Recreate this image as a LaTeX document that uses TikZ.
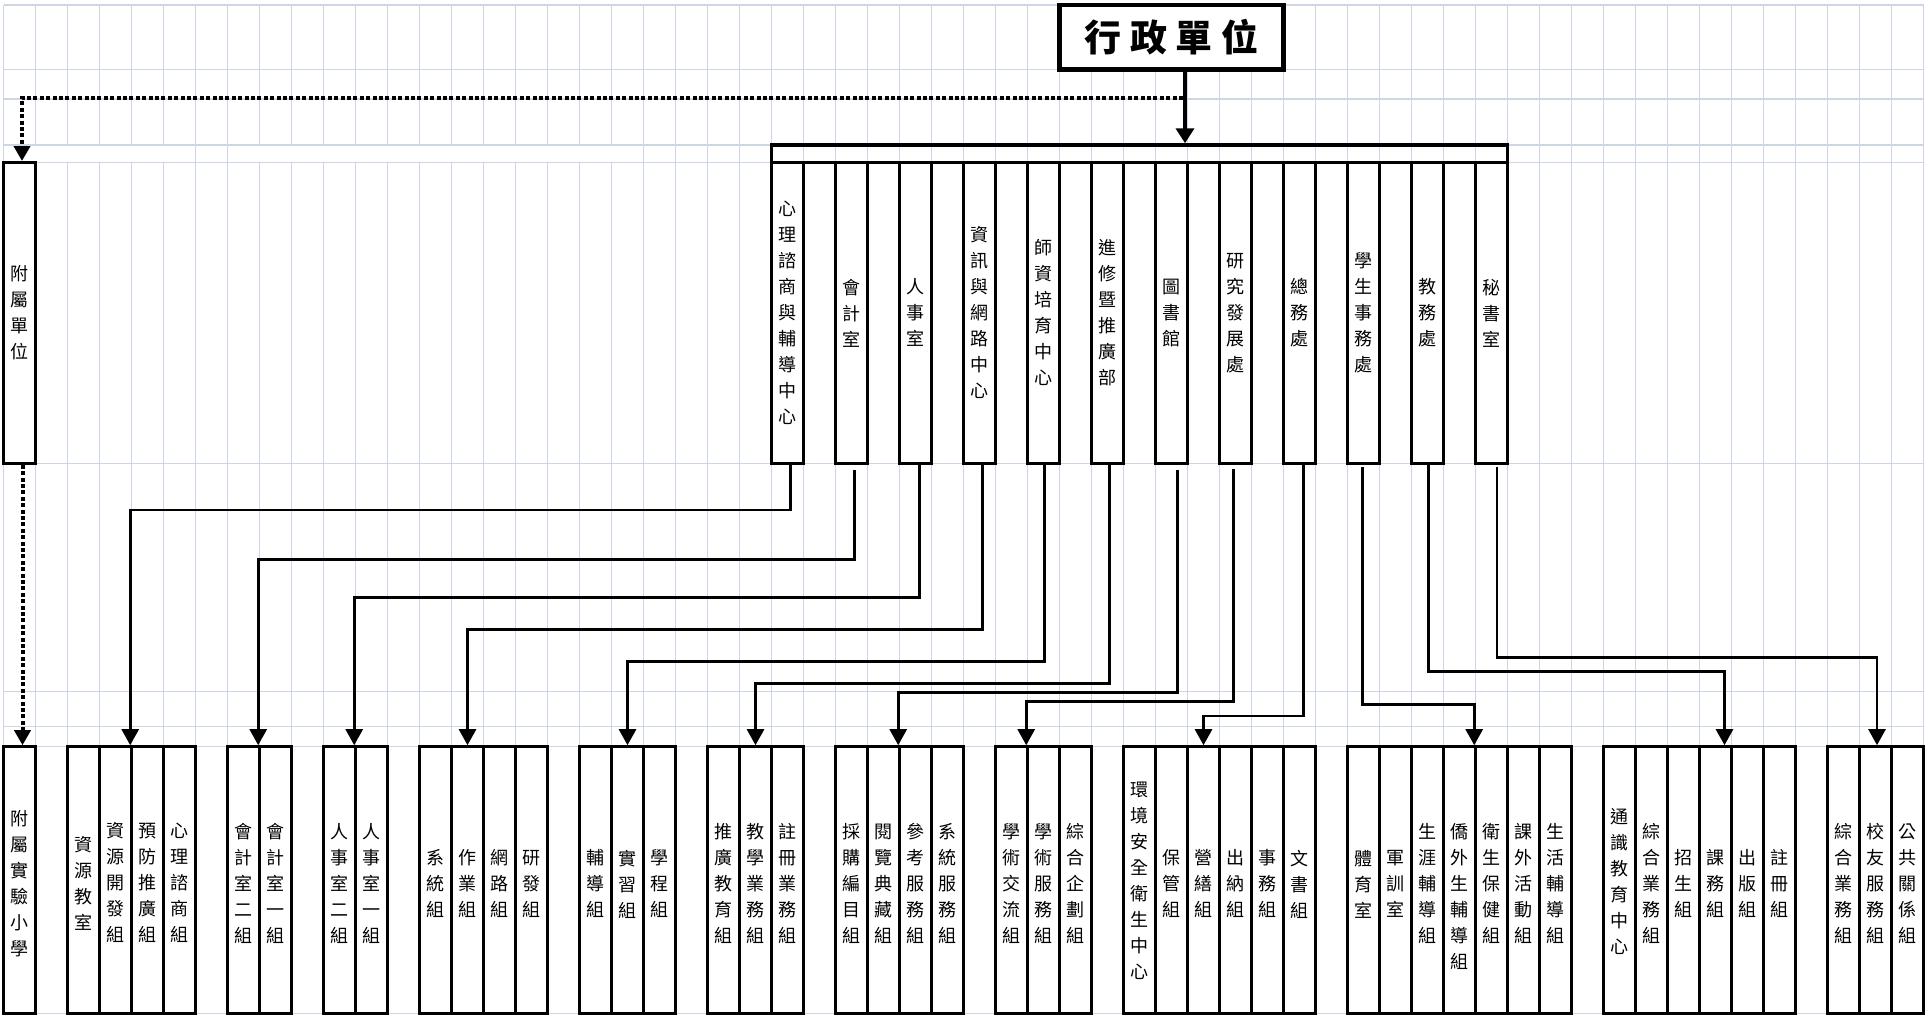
\documentclass[tikz,border=0pt]{standalone}
\usepackage{fontspec}
\newfontfamily\cjk{Noto Sans CJK TC}
\usetikzlibrary{arrows.meta}
\definecolor{gridc}{RGB}{206,214,229}
\begin{document}
\begin{tikzpicture}[x=1pt,y=-1pt,
  gridl/.style={draw=gridc,line width=1.5pt},
  ubox/.style={draw,fill=white,line width=2.6pt,minimum width=32pt,minimum height=301.2pt,inner sep=0pt,align=center,font=\cjk\fontsize{18}{26}\selectfont},
  bbox/.style={draw,fill=white,line width=2.6pt,minimum width=32pt,minimum height=266.8pt,inner sep=0pt},
  btext/.style={inner sep=0pt,align=center,font=\cjk\fontsize{18}{26}\selectfont},
  conn/.style={line width=2.6pt,-{Triangle[width=17pt,length=16pt]}},
  mainconn/.style={line width=4pt,-{Triangle[width=18pt,length=15pt]}},
  dotconn/.style={line width=4pt,dash pattern=on 4pt off 2.4pt,-{Triangle[width=16pt,length=15pt]}}]
\useasboundingbox (0,0) rectangle (1928,1015);
\fill[white] (0,0) rectangle (1928,1015);
% grid
\foreach \y in {5,69.5,99,145,162.3,463.5,691.7,726.5,746.5,1013.3}
  \draw[gridl] (3.5,\y) -- (1923.5,\y);
\foreach \k in {0,6,7}
  \draw[gridl] (3.5+32*\k,5) -- (3.5+32*\k,1013.3);
\foreach \k in {20,...,60}
  \draw[gridl] (3.5+32*\k,5) -- (3.5+32*\k,1013.3);
\foreach \k in {1,2,3,4,5,8,9,10,11,12,13,14,15,16,17,18,19}{
  \draw[gridl] (3.5+32*\k,5) -- (3.5+32*\k,145);
  \draw[gridl] (3.5+32*\k,162.3) -- (3.5+32*\k,1013.3);
}
% top box
\node[draw,fill=white,line width=4.5pt,minimum width=224pt,minimum height=64.5pt,inner sep=0pt,
  font=\cjk\bfseries\fontsize{37}{40}\selectfont] (top) at (1171.5,37.25)
  {行\hspace{9pt}政\hspace{9pt}單\hspace{9pt}位};
% bar
\node[draw,line width=3.5pt,minimum width=736pt,minimum height=17.3pt,inner sep=0pt] (bar) at (1139.5,153.65) {};
% affiliated unit
\node[ubox] (aff) at (19.5,312.9) {附\\屬\\單\\位};
% upper boxes
\foreach \k/\lab in {24/心\\理\\諮\\商\\與\\輔\\導\\中\\心,
  26/會\\計\\室, 28/人\\事\\室, 30/資\\訊\\與\\網\\路\\中\\心,
  32/師\\資\\培\\育\\中\\心, 34/進\\修\\暨\\推\\廣\\部, 36/圖\\書\\館,
  38/研\\究\\發\\展\\處, 40/總\\務\\處, 42/學\\生\\事\\務\\處,
  44/教\\務\\處, 46/秘\\書\\室}
  \node[ubox] (u\k) at (19.5+32*\k,312.9) {\lab};
% bottom boxes
\foreach \k/\lab/\dy in {0/附\\屬\\實\\驗\\小\\學/4,
  2/資\\源\\教\\室/3, 3/資\\源\\開\\發\\組/3, 4/預\\防\\推\\廣\\組/3, 5/心\\理\\諮\\商\\組/3,
  7/會\\計\\室\\二\\組/4, 8/會\\計\\室\\一\\組/4,
  10/人\\事\\室\\二\\組/4, 11/人\\事\\室\\一\\組/4,
  13/系\\統\\組/4, 14/作\\業\\組/4, 15/網\\路\\組/4, 16/研\\發\\組/4,
  18/輔\\導\\組/4, 19/實\\習\\組/4, 20/學\\程\\組/4,
  22/推\\廣\\教\\育\\組/4, 23/教\\學\\業\\務\\組/4, 24/註\\冊\\業\\務\\組/4,
  26/採\\購\\編\\目\\組/4, 27/閱\\覽\\典\\藏\\組/4, 28/參\\考\\服\\務\\組/4, 29/系\\統\\服\\務\\組/4,
  31/學\\術\\交\\流\\組/4, 32/學\\術\\服\\務\\組/4, 33/綜\\合\\企\\劃\\組/4,
  35/環\\境\\安\\全\\衛\\生\\中\\心/1, 36/保\\管\\組/4, 37/營\\繕\\組/4, 38/出\\納\\組/4,
  39/事\\務\\組/4, 40/文\\書\\組/4,
  42/體\\育\\室/4, 43/軍\\訓\\室/4, 44/生\\涯\\輔\\導\\組/4, 45/僑\\外\\生\\輔\\導\\組/17,
  46/衛\\生\\保\\健\\組/4, 47/課\\外\\活\\動\\組/4, 48/生\\活\\輔\\導\\組/4,
  50/通\\識\\教\\育\\中\\心/2, 51/綜\\合\\業\\務\\組/4, 52/招\\生\\組/4, 53/課\\務\\組/4,
  54/出\\版\\組/4, 55/註\\冊\\組/4,
  57/綜\\合\\業\\務\\組/4, 58/校\\友\\服\\務\\組/4, 59/公\\共\\關\\係\\組/4}{
  \node[bbox] (b\k) at (19.5+32*\k,879.9) {};
  \node[btext] at ([yshift=-\dy pt]b\k.center) {\lab};
}
% main arrow and dotted link
\coordinate (ma) at ([xshift=13.5pt]top.south);
\draw[mainconn] (ma) -- (ma |- bar.north);
\coordinate (dotS) at (1183,97.7);
\coordinate (affin) at ([xshift=2.5pt]aff.north);
\draw[dotconn] (dotS) -| (affin);
\draw[dotconn] ([xshift=3pt]aff.south) -- ([xshift=3pt]b0.north);
% connectors
\draw[conn] ([xshift=3pt]u24.south) -- ++(0,45) -| (b4.north west);
\draw[conn,shorten <=5pt] ([xshift=3pt]u26.south) -- ++(0,94.8) -| (b8.north west);
\draw[conn] ([xshift=4pt]u28.south) -- ++(0,132.5) -| (b11.north west);
\draw[conn] ([xshift=3pt]u30.south) -- ++(0,164.5) -| (b14.north);
\draw[conn] ([xshift=1pt]u32.south) -- ++(0,196.5) -| (b19.north);
\draw[conn] ([xshift=2pt]u34.south) -- ++(0,218.9) -| (b23.north);
\draw[conn,shorten <=5pt] ([xshift=6pt]u36.south) -- ++(0,227.4) -| (b28.north west);
\draw[conn,shorten <=4pt] ([xshift=-2pt]u38.south) -- ++(0,236.5) -| (b32.north west);
\draw[conn] ([xshift=4pt]u40.south) -- ++(0,251.2) -| (b37.north);
\draw[conn,shorten <=2.5pt] ([xshift=-1pt]u42.south) -- ++(0,239.8) -| (b46.north west);
\draw[conn] ([xshift=1pt]u44.south) -- ++(0,206.5) -| ([xshift=9pt]b53.north);
\draw[conn,shorten <=2.5pt] ([xshift=5.5pt]u46.south) -- ++(0,192.9) -| ([xshift=1.5pt]b58.north);
\end{tikzpicture}
\end{document}
